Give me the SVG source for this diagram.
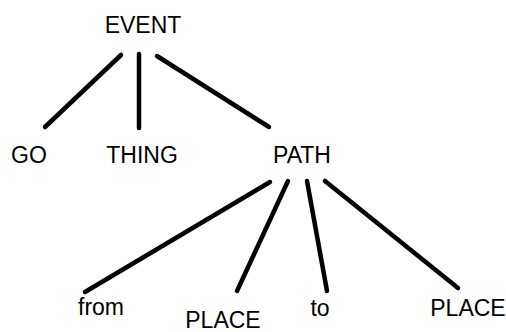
<svg xmlns="http://www.w3.org/2000/svg" width="506" height="332" viewBox="0 0 506 332">
<style>
text{font-family:"Liberation Sans",Arial,sans-serif;font-size:23px;fill:#000;text-anchor:middle}
.c line{stroke:#000;stroke-width:4.5;stroke-linecap:round}
</style>
<rect width="506" height="332" fill="#fff"/>
<g class="c" id="connectors">
<line x1="121" y1="55" x2="45" y2="127"/>
<line x1="139" y1="54" x2="139" y2="128"/>
<line x1="157" y1="56" x2="269" y2="127"/>
<line x1="270" y1="182" x2="85" y2="292"/>
<line x1="288" y1="181" x2="237" y2="291"/>
<line x1="307" y1="181" x2="327" y2="291"/>
<line x1="325" y1="181" x2="458" y2="288"/>
</g>
<g id="event"><text x="143" y="33">EVENT</text></g>
<g id="go"><text x="29" y="163">GO</text></g>
<g id="thing"><text x="142" y="163">THING</text></g>
<g id="path"><text x="302" y="163">PATH</text></g>
<g id="from"><text x="101" y="315">from</text></g>
<g id="place1"><text x="223" y="328">PLACE</text></g>
<g id="to"><text x="320" y="316">to</text></g>
<g id="place2"><text x="468" y="316">PLACE</text></g>
</svg>
